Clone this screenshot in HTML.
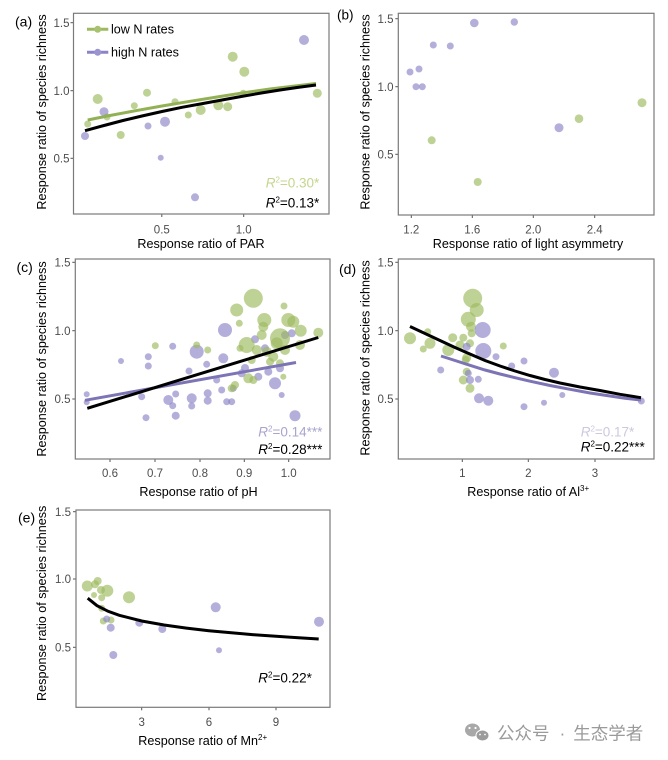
<!DOCTYPE html>
<html><head><meta charset="utf-8"><style>
html,body{margin:0;padding:0;background:#fff;}
svg{display:block;}
text{font-family:"Liberation Sans",Arial,sans-serif;}
.tk{font-size:11.5px;fill:#4d4d4d;}
.tt{font-size:12.6px;fill:#000;}
.pl{font-size:14px;fill:#000;}
.rr{font-size:13.5px;}
.g{fill:#9dba5e;fill-opacity:.65;}
.p{fill:#8b84c6;fill-opacity:.65;}
.bx{fill:none;stroke:#7a7a7a;stroke-width:1.2;}
.tm{stroke:#555;stroke-width:1;}
</style></head><body>
<svg width="668" height="760" viewBox="0 0 668 760" xmlns="http://www.w3.org/2000/svg">
<rect width="668" height="760" fill="#fff"/>

<!-- ================= Panel (a) ================= -->
<text class="pl" x="15" y="26.5">(a)</text>
<text class="tt" transform="translate(46,112) rotate(-90)" text-anchor="middle">Response ratio of species richness</text>
<g class="tk" text-anchor="end">
<text x="69.5" y="26.8">1.5</text><text x="69.5" y="94.8">1.0</text><text x="69.5" y="162.4">0.5</text>
</g>
<g class="tm"><line x1="70.5" y1="22.7" x2="73.5" y2="22.7"/><line x1="70.5" y1="90.7" x2="73.5" y2="90.7"/><line x1="70.5" y1="158.3" x2="73.5" y2="158.3"/>
<line x1="161.8" y1="214" x2="161.8" y2="217"/><line x1="243.7" y1="214" x2="243.7" y2="217"/></g>
<g class="tk" text-anchor="middle"><text x="161.8" y="233.4">0.5</text><text x="243.7" y="233.4">1.0</text></g>
<text class="tt" x="201" y="247.8" text-anchor="middle">Response ratio of PAR</text>
<g>
<circle class="g" cx="97.7" cy="99" r="5"/><circle class="g" cx="87.7" cy="124" r="3.5"/><circle class="g" cx="107" cy="117" r="3.5"/>
<circle class="g" cx="120.7" cy="135" r="4"/><circle class="g" cx="134.3" cy="105.7" r="3.5"/><circle class="g" cx="147" cy="92.7" r="4"/>
<circle class="g" cx="175" cy="101.7" r="3.5"/><circle class="g" cx="188.3" cy="115" r="3.5"/><circle class="g" cx="200.7" cy="110" r="5"/>
<circle class="g" cx="218.3" cy="105.3" r="5"/><circle class="g" cx="227.7" cy="106.7" r="4.5"/><circle class="g" cx="232.7" cy="56.7" r="5"/>
<circle class="g" cx="244.3" cy="71.7" r="5"/><circle class="g" cx="243.3" cy="93.3" r="3.5"/><circle class="g" cx="317.3" cy="93.3" r="4.5"/>
<circle class="p" cx="85" cy="136" r="4"/><circle class="p" cx="104" cy="111.7" r="4.5"/><circle class="p" cx="148" cy="126" r="3.5"/>
<circle class="p" cx="165" cy="121.7" r="5"/><circle class="p" cx="160.7" cy="157.7" r="3"/><circle class="p" cx="195" cy="197.3" r="4"/>
<circle class="p" cx="304" cy="40" r="5"/>
</g>
<polyline fill="none" stroke="#92b154" stroke-width="3" points="87.7,120 110,115.5 135,110.8 162,106 190,101.3 217,97 244,92.7 270,89 295,86 316,83.5"/>
<polyline fill="none" stroke="#000" stroke-width="3" points="85,130.7 104,125.5 123,120.5 142,116 162,111.5 182,107.3 203,103.5 224,99.6 244,96 262,92.9 280,90 298,87.4 316,85"/>
<!-- legend -->
<line x1="87" y1="29.3" x2="108.3" y2="29.3" stroke="#9dba5e" stroke-width="3"/><circle cx="97.7" cy="29.3" r="3.5" fill="#a9c272"/>
<text class="tt" x="111" y="33.7">low N rates</text>
<line x1="87" y1="52.3" x2="108.3" y2="52.3" stroke="#8b84c6" stroke-width="3"/><circle cx="97.7" cy="52.3" r="3.5" fill="#9a94cf"/>
<text class="tt" x="111" y="56.7">high N rates</text>
<text class="rr" x="265.7" y="187.5" fill="#c3d68c"><tspan font-style="italic">R</tspan><tspan font-size="8" dy="-5">2</tspan><tspan dy="5">=0.30*</tspan></text>
<text class="rr" x="265.7" y="207.5" fill="#000"><tspan font-style="italic">R</tspan><tspan font-size="8" dy="-5">2</tspan><tspan dy="5">=0.13*</tspan></text>
<rect class="bx" x="73.5" y="13.3" width="255.5" height="200.7"/>

<!-- ================= Panel (b) ================= -->
<text class="pl" x="337" y="19.5" style="font-size:13.5px">(b)</text>
<text class="tt" transform="translate(369.5,112) rotate(-90)" text-anchor="middle">Response ratio of species richness</text>
<g class="tk" text-anchor="end">
<text x="393.5" y="22.8">1.5</text><text x="393.5" y="90.8">1.0</text><text x="393.5" y="158.4">0.5</text>
</g>
<g class="tm"><line x1="395.3" y1="18.7" x2="398.3" y2="18.7"/><line x1="395.3" y1="86.7" x2="398.3" y2="86.7"/><line x1="395.3" y1="154.3" x2="398.3" y2="154.3"/>
<line x1="411.3" y1="215" x2="411.3" y2="218"/><line x1="472.3" y1="215" x2="472.3" y2="218"/><line x1="533.3" y1="215" x2="533.3" y2="218"/><line x1="594.7" y1="215" x2="594.7" y2="218"/></g>
<g class="tk" text-anchor="middle"><text x="411.3" y="233.4">1.2</text><text x="472.3" y="233.4">1.6</text><text x="533.3" y="233.4">2.0</text><text x="594.7" y="233.4">2.4</text></g>
<text class="tt" x="528" y="247.8" text-anchor="middle">Response ratio of light asymmetry</text>
<g>
<circle class="p" cx="410" cy="72" r="3.5"/><circle class="p" cx="419" cy="69" r="3.5"/><circle class="p" cx="416" cy="86.7" r="3.5"/>
<circle class="p" cx="422.3" cy="86.7" r="3.5"/><circle class="p" cx="433.3" cy="45" r="3.5"/><circle class="p" cx="450.3" cy="46" r="3.5"/>
<circle class="p" cx="474.3" cy="23" r="4.3"/><circle class="p" cx="514.3" cy="22" r="3.7"/><circle class="p" cx="559" cy="127.7" r="4.5"/>
<circle class="g" cx="431.7" cy="140.3" r="4"/><circle class="g" cx="477.7" cy="182" r="4"/><circle class="g" cx="579" cy="118.7" r="4.3"/>
<circle class="g" cx="642" cy="102.7" r="4.5"/>
</g>
<rect class="bx" x="398.3" y="13.3" width="255.7" height="201.7"/>

<!-- ================= Panel (c) ================= -->
<text class="pl" x="16.5" y="272">(c)</text>
<text class="tt" transform="translate(46,359) rotate(-90)" text-anchor="middle">Response ratio of species richness</text>
<g class="tk" text-anchor="end">
<text x="70.5" y="266.4">1.5</text><text x="70.5" y="334.8">1.0</text><text x="70.5" y="403.1">0.5</text>
</g>
<g class="tm"><line x1="72.3" y1="262.3" x2="75.3" y2="262.3"/><line x1="72.3" y1="330.7" x2="75.3" y2="330.7"/><line x1="72.3" y1="399" x2="75.3" y2="399"/>
<line x1="110" y1="459" x2="110" y2="462"/><line x1="155" y1="459" x2="155" y2="462"/><line x1="200" y1="459" x2="200" y2="462"/><line x1="244.3" y1="459" x2="244.3" y2="462"/><line x1="288.7" y1="459" x2="288.7" y2="462"/></g>
<g class="tk" text-anchor="middle"><text x="110" y="476.8">0.6</text><text x="155" y="476.8">0.7</text><text x="200" y="476.8">0.8</text><text x="244.3" y="476.8">0.9</text><text x="288.7" y="476.8">1.0</text></g>
<text class="tt" x="198.5" y="496.2" text-anchor="middle">Response ratio of pH</text>
<g>
<circle class="p" cx="86.7" cy="394.3" r="3"/><circle class="p" cx="86.7" cy="402.3" r="3"/><circle class="p" cx="121" cy="361" r="3"/>
<circle class="p" cx="148.3" cy="356.7" r="3.5"/><circle class="p" cx="148.3" cy="366" r="3.5"/><circle class="p" cx="141.7" cy="396.7" r="3.5"/>
<circle class="p" cx="146" cy="417.7" r="3.5"/><circle class="p" cx="172.7" cy="346.3" r="3.5"/><circle class="p" cx="168.3" cy="400" r="5"/>
<circle class="p" cx="172.7" cy="405.7" r="3.5"/><circle class="p" cx="175.7" cy="394" r="3.5"/><circle class="p" cx="175.7" cy="415.7" r="4"/>
<circle class="p" cx="191.7" cy="398.3" r="5"/><circle class="p" cx="191.7" cy="406" r="3.5"/><circle class="p" cx="196.7" cy="351.7" r="7"/>
<circle class="p" cx="207.7" cy="393.3" r="4"/><circle class="p" cx="207.7" cy="400.7" r="4"/><circle class="p" cx="206.7" cy="364.3" r="3.5"/>
<circle class="p" cx="216.7" cy="380" r="3.5"/><circle class="p" cx="221.7" cy="390" r="3.5"/><circle class="p" cx="225" cy="330" r="7"/>
<circle class="p" cx="223.3" cy="358.3" r="5"/><circle class="p" cx="226.7" cy="401.7" r="3.5"/><circle class="p" cx="231.7" cy="401.7" r="3.5"/>
<circle class="p" cx="233.3" cy="388.3" r="3.5"/><circle class="p" cx="241.7" cy="373.3" r="4"/><circle class="p" cx="255" cy="339.3" r="4"/>
<circle class="p" cx="258.3" cy="376.7" r="4"/><circle class="p" cx="265" cy="348.3" r="4"/><circle class="p" cx="268.3" cy="371.7" r="4"/>
<circle class="p" cx="275" cy="383.3" r="6"/><circle class="p" cx="280" cy="368.3" r="4"/><circle class="p" cx="281.7" cy="395" r="3"/>
<circle class="p" cx="291.7" cy="333.3" r="4"/><circle class="p" cx="295" cy="415.7" r="5.5"/><circle class="p" cx="189" cy="371" r="3.5"/>
<circle class="p" cx="245" cy="368" r="4"/><circle class="p" cx="285" cy="335" r="4"/>
<circle class="g" cx="155.3" cy="345.7" r="3.5"/><circle class="g" cx="196.7" cy="345" r="3.5"/><circle class="g" cx="207.7" cy="350" r="3.5"/>
<circle class="g" cx="236.7" cy="310" r="6.5"/><circle class="g" cx="253.3" cy="298.3" r="9.5"/><circle class="g" cx="239.3" cy="323.3" r="3.5"/>
<circle class="g" cx="264.3" cy="320" r="7"/><circle class="g" cx="263.3" cy="326.7" r="5"/><circle class="g" cx="284" cy="306" r="3.5"/>
<circle class="g" cx="288.3" cy="320" r="7"/><circle class="g" cx="300.7" cy="330.7" r="6"/><circle class="g" cx="318.3" cy="332.7" r="5"/>
<circle class="g" cx="280" cy="338.3" r="10"/><circle class="g" cx="276.7" cy="343.3" r="6"/><circle class="g" cx="261.7" cy="335" r="5"/>
<circle class="g" cx="246.7" cy="345" r="8"/><circle class="g" cx="240" cy="348.3" r="3.5"/><circle class="g" cx="256.7" cy="350" r="5"/>
<circle class="g" cx="251.7" cy="360" r="4"/><circle class="g" cx="273.3" cy="356.7" r="5"/><circle class="g" cx="280" cy="363.3" r="4"/>
<circle class="g" cx="270" cy="361.7" r="4"/><circle class="g" cx="248.3" cy="378.3" r="5"/><circle class="g" cx="253.3" cy="380" r="4"/>
<circle class="g" cx="283.3" cy="376.7" r="3"/><circle class="g" cx="235" cy="385" r="4"/><circle class="g" cx="231.7" cy="388.3" r="4"/>
<circle class="g" cx="300" cy="345" r="5"/><circle class="g" cx="285" cy="350" r="5"/><circle class="g" cx="266.7" cy="351.7" r="5"/>
<circle class="g" cx="293.3" cy="321.7" r="6"/>
</g>
<line x1="85" y1="400.3" x2="296" y2="362.5" stroke="#7c74b5" stroke-width="3"/>
<line x1="87.3" y1="408.3" x2="318.3" y2="337.5" stroke="#000" stroke-width="3"/>
<text class="rr" x="258.3" y="436.5" fill="#a9a4cf"><tspan font-style="italic">R</tspan><tspan font-size="8" dy="-5">2</tspan><tspan dy="5">=0.14***</tspan></text>
<text class="rr" x="258.3" y="454" fill="#000"><tspan font-style="italic">R</tspan><tspan font-size="8" dy="-5">2</tspan><tspan dy="5">=0.28***</tspan></text>
<rect class="bx" x="75.3" y="259" width="254.7" height="200"/>

<!-- ================= Panel (d) ================= -->
<text class="pl" x="339" y="274">(d)</text>
<text class="tt" transform="translate(369.5,358) rotate(-90)" text-anchor="middle">Response ratio of species richness</text>
<g class="tk" text-anchor="end">
<text x="393.5" y="266.4">1.5</text><text x="393.5" y="334.8">1.0</text><text x="393.5" y="403.1">0.5</text>
</g>
<g class="tm"><line x1="395.3" y1="262.3" x2="398.3" y2="262.3"/><line x1="395.3" y1="330.7" x2="398.3" y2="330.7"/><line x1="395.3" y1="399" x2="398.3" y2="399"/>
<line x1="462.3" y1="459" x2="462.3" y2="462"/><line x1="528.3" y1="459" x2="528.3" y2="462"/><line x1="595" y1="459" x2="595" y2="462"/></g>
<g class="tk" text-anchor="middle"><text x="462.3" y="476.8">1</text><text x="528.3" y="476.8">2</text><text x="595" y="476.8">3</text></g>
<text class="tt" x="467.3" y="496.2">Response ratio of Al<tspan font-size="8" dy="-5">3+</tspan></text>
<g>
<circle class="g" cx="472.7" cy="298.3" r="9.5"/><circle class="g" cx="476.7" cy="310" r="7"/><circle class="g" cx="468.3" cy="319.3" r="7.5"/>
<circle class="g" cx="471" cy="326.7" r="5"/><circle class="g" cx="471.7" cy="333.3" r="4"/><circle class="g" cx="410" cy="338.3" r="6"/>
<circle class="g" cx="427.7" cy="331.7" r="3.5"/><circle class="g" cx="430" cy="343.3" r="5.5"/><circle class="g" cx="423.3" cy="349" r="3.5"/>
<circle class="g" cx="452.7" cy="337.7" r="4.5"/><circle class="g" cx="463.3" cy="337.7" r="4"/><circle class="g" cx="460" cy="345" r="4.5"/>
<circle class="g" cx="448.3" cy="350" r="6"/><circle class="g" cx="470" cy="343.3" r="4"/><circle class="g" cx="466.7" cy="357.7" r="4.5"/>
<circle class="g" cx="466.7" cy="371.7" r="4"/><circle class="g" cx="463.3" cy="380" r="4.5"/><circle class="g" cx="470" cy="388.3" r="4.5"/>
<circle class="g" cx="503.3" cy="346" r="3.5"/><circle class="g" cx="465.7" cy="360" r="4"/>
<circle class="p" cx="482.7" cy="330" r="8"/><circle class="p" cx="483.3" cy="351" r="8"/><circle class="p" cx="466.7" cy="346.7" r="4"/>
<circle class="p" cx="496" cy="356.7" r="3.5"/><circle class="p" cx="440.7" cy="370" r="3.5"/><circle class="p" cx="468.3" cy="373.3" r="3.5"/>
<circle class="p" cx="470" cy="380" r="4"/><circle class="p" cx="478.3" cy="379.3" r="3.5"/><circle class="p" cx="479" cy="398.3" r="5"/>
<circle class="p" cx="488.3" cy="400.7" r="5"/><circle class="p" cx="511.7" cy="366" r="3.5"/><circle class="p" cx="524" cy="361" r="3.5"/>
<circle class="p" cx="524" cy="406.7" r="3.5"/><circle class="p" cx="554" cy="372.7" r="5"/><circle class="p" cx="544" cy="402.7" r="3"/>
<circle class="p" cx="562.3" cy="395" r="3"/><circle class="p" cx="641.3" cy="401" r="3.5"/>
</g>
<polyline fill="none" stroke="#7c74b5" stroke-width="3" points="441,356 455,360.5 470,365.3 485,370 500,374 515,377.7 530,381.2 550,385.5 570,389.3 590,393 610,396 625,398.2 641,400"/>
<polyline fill="none" stroke="#000" stroke-width="3" points="410,326.5 425,333.5 440,340.5 455,347.5 467,352.8 485,360.5 500,366 515,371 530,375.5 545,379.5 560,383 580,387 600,390.5 620,394.3 641,397.7"/>
<text class="rr" x="580.7" y="436.5" fill="#cbc9df"><tspan font-style="italic">R</tspan><tspan font-size="8" dy="-5">2</tspan><tspan dy="5">=0.17*</tspan></text>
<text class="rr" x="580.7" y="451.5" fill="#000"><tspan font-style="italic">R</tspan><tspan font-size="8" dy="-5">2</tspan><tspan dy="5">=0.22***</tspan></text>
<rect class="bx" x="398.3" y="259" width="255.7" height="200"/>

<!-- ================= Panel (e) ================= -->
<text class="pl" x="18" y="522.5">(e)</text>
<text class="tt" transform="translate(46,603.3) rotate(-90)" text-anchor="middle">Response ratio of species richness</text>
<g class="tk" text-anchor="end">
<text x="71" y="515.8">1.5</text><text x="71" y="583.1">1.0</text><text x="71" y="651.4">0.5</text>
</g>
<g class="tm"><line x1="73" y1="511.7" x2="76" y2="511.7"/><line x1="73" y1="579" x2="76" y2="579"/><line x1="73" y1="647.3" x2="76" y2="647.3"/>
<line x1="141.7" y1="707.3" x2="141.7" y2="710.3"/><line x1="209" y1="707.3" x2="209" y2="710.3"/><line x1="276" y1="707.3" x2="276" y2="710.3"/></g>
<g class="tk" text-anchor="middle"><text x="141.7" y="725.8">3</text><text x="209" y="725.8">6</text><text x="276" y="725.8">9</text></g>
<text class="tt" x="138.3" y="745">Response ratio of Mn<tspan font-size="8" dy="-5">2+</tspan></text>
<g>
<circle class="g" cx="87.3" cy="586" r="5.5"/><circle class="g" cx="95" cy="584.3" r="4"/><circle class="g" cx="97.7" cy="581" r="4"/>
<circle class="g" cx="94" cy="595" r="3"/><circle class="g" cx="101.7" cy="597.7" r="3.5"/><circle class="g" cx="101" cy="590" r="4"/>
<circle class="g" cx="107.3" cy="590.7" r="6"/><circle class="g" cx="101.7" cy="608.3" r="3.5"/><circle class="g" cx="103.3" cy="621" r="3.5"/>
<circle class="g" cx="111" cy="620" r="3.5"/><circle class="g" cx="129" cy="597.3" r="6"/>
<circle class="p" cx="106.7" cy="619" r="3.5"/><circle class="p" cx="110.7" cy="627.7" r="4"/><circle class="p" cx="113.3" cy="655" r="4"/>
<circle class="p" cx="139.3" cy="622.7" r="4"/><circle class="p" cx="162.3" cy="629" r="4"/><circle class="p" cx="215.7" cy="607.3" r="5"/>
<circle class="p" cx="219" cy="650.3" r="3"/><circle class="p" cx="319" cy="621.7" r="5"/>
</g>
<polyline fill="none" stroke="#000" stroke-width="3" points="87.7,598.2 96.9,605.6 108.1,611.3 119.3,615.3 141.7,621 164.1,625 186.5,628.1 208.9,630.7 231.3,632.8 253.7,634.7 276.1,636.3 298.5,637.8 318.7,639"/>
<text class="rr" x="258.3" y="682.5" fill="#000"><tspan font-style="italic">R</tspan><tspan font-size="8" dy="-5">2</tspan><tspan dy="5">=0.22*</tspan></text>
<rect class="bx" x="76" y="510" width="254" height="197.3"/>

<!-- watermark -->
<g>
<ellipse cx="472.5" cy="730" rx="7.5" ry="6.5" fill="#a8a8a8"/>
<ellipse cx="482.5" cy="735.5" rx="6.5" ry="5.5" fill="#9c9c9c" stroke="#fff" stroke-width="1"/>
<circle cx="469.5" cy="728" r="1.1" fill="#fff"/><circle cx="475.5" cy="728" r="1.1" fill="#fff"/>
<circle cx="480" cy="734.5" r="0.9" fill="#fff"/><circle cx="485" cy="734.5" r="0.9" fill="#fff"/>
</g>
<text x="497" y="739.5" style="font-family:'Liberation Sans','Noto Sans CJK SC',sans-serif;font-size:17.5px;fill:#9a9a9a">公众号</text>
<text x="559.5" y="739.5" style="font-family:'Liberation Sans','Noto Sans CJK SC',sans-serif;font-size:17.5px;fill:#9a9a9a">·</text>
<text x="573.3" y="739.5" style="font-family:'Liberation Sans','Noto Sans CJK SC',sans-serif;font-size:17.5px;fill:#9a9a9a">生态学者</text>
</svg>
</body></html>
